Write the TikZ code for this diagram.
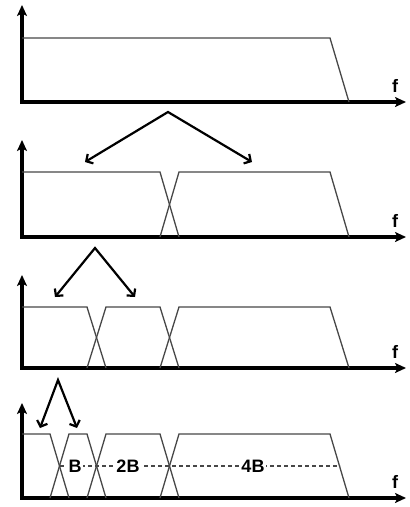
\documentclass[tikz,border=0pt]{standalone}
\usepackage{fontspec}
\setsansfont{Liberation Sans}
\usepackage{tikz}
\usetikzlibrary{arrows.meta, calc}

\begin{document}
\begin{tikzpicture}[x=1pt,y=-1pt]
      \tikzset{axis line/.style={line width=3.2pt,
          {Stealth[length=11pt,width=10pt,inset=2.5pt]}-{Stealth[length=11pt,width=10pt,inset=2.5pt]}},
        band/.style={black!72, line width=1.3pt},
        split arrow/.style={line width=2.2pt,
          {Straight Barb[length=5pt,width=11pt]}-{Straight Barb[length=5pt,width=11pt]}},
        band label/.style={font=\sffamily\bfseries\fontsize{18}{18}\selectfont,
          fill=white, inner sep=1.5pt}
      }
      \useasboundingbox (0,0) rectangle (410,507);

      % axes with the f label
      \foreach \n/\base/\tip in {1/102/5, 2/237/140, 3/368/275, 4/498/403} {
        \draw [axis line] (22,\tip) |- (406,\base);
        \node [band label, fill=none, inner sep=0pt] (f\n) at (395,\base-16) {f};
      }

      % panel 1
      \draw [band] (22,38) -- (330,38) -- (349,102);

      % panel 2
      \draw [band] (22,172) -- (160,172) -- (179,237);
      \draw [band] (160,237) -- ++(19,-65) -- (330,172) -- ++(19,65);

      % panel 3
      \draw [band] (22,307) -- (87,307) -- (106,368);
      \foreach \a/\b in {87/160, 160/330}
        \draw [band] (\a,368) -- ++(19,-61) -- (\b,307) -- ++(19,61);

      % panel 4
      \draw [band] (22,434) -- (50,434) -- (69,498);
      \foreach \a/\b in {50/87, 87/160, 160/330}
        \draw [band] (\a,498) -- ++(19,-64) -- (\b,434) -- ++(19,64);
      \coordinate (D1) at (60,466);
      \coordinate (D2) at (340,466);
      \draw [band, dash pattern=on 4pt off 3pt] (D1) -- (D2);
      \node [band label] (B1) at (75,466) {B};
      \node [band label] (B2) at (128,466) {2B};
      \node [band label] (B4) at (253,466) {4B};

      % splitting arrows
      \coordinate (A2) at (168,112);
      \coordinate (L2) at (85,162);
      \coordinate (R2) at (252,162);
      \draw [split arrow] (L2) -- (A2) -- (R2);

      \coordinate (A3) at (95,248);
      \coordinate (L3) at (55,297);
      \coordinate (R3) at (135,297);
      \draw [split arrow] (L3) -- (A3) -- (R3);

      \coordinate (A4) at (58,380);
      \coordinate (L4) at (40,428);
      \coordinate (R4) at (77,428);
      \draw [split arrow] (L4) -- (A4) -- (R4);

    \end{tikzpicture}
\end{document}
